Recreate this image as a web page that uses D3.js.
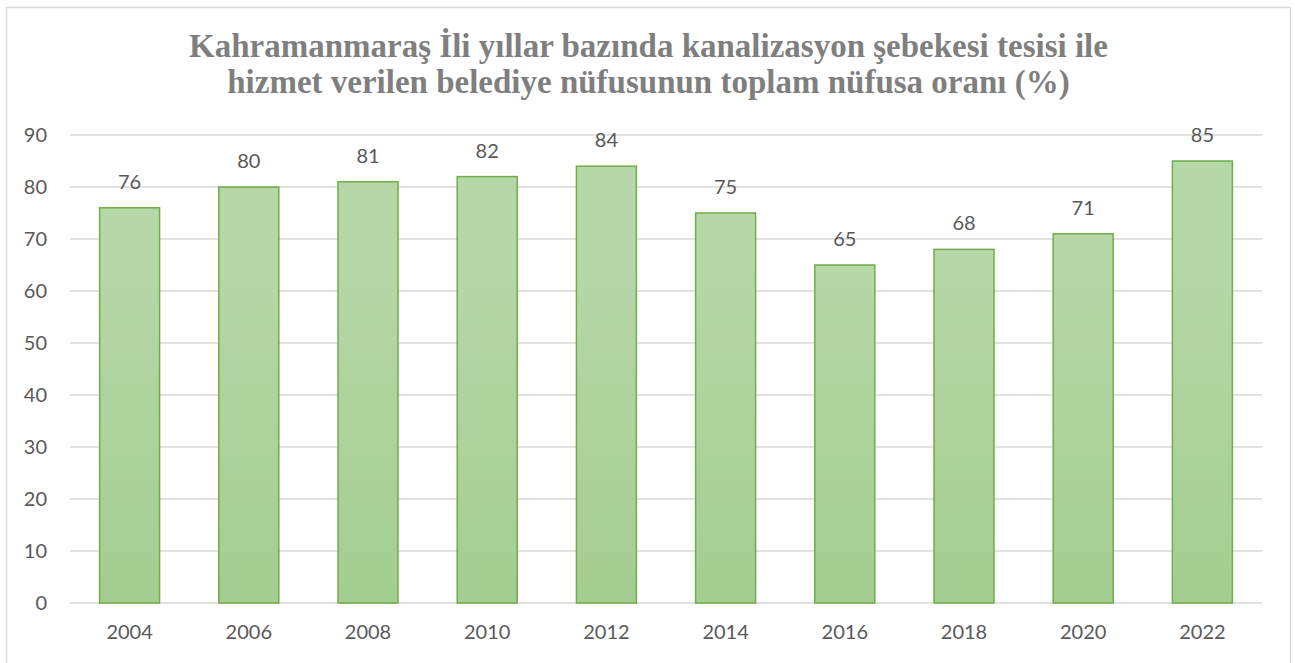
<!DOCTYPE html>
<html>
<head>
<meta charset="utf-8">
<script src="https://cdn.jsdelivr.net/npm/d3@7"></script>
<style>
  body { margin: 0; background: #fff; }
  text { font-family: "Lato", "Open Sans", sans-serif; }
</style>
</head>
<body>
<div id="chart"></div>
<script>
var years = ["2004", "2006", "2008", "2010", "2012", "2014", "2016", "2018", "2020", "2022"];
var rates = [76, 80, 81, 82, 84, 75, 65, 68, 71, 85];
var yTicks = [0, 10, 20, 30, 40, 50, 60, 70, 80, 90];
var titleLines = [
  "Kahramanmaraş İli yıllar bazında kanalizasyon şebekesi tesisi ile",
  "hizmet verilen belediye nüfusunun toplam nüfusa oranı (%)"
];

var svgWidth = 1295;
var svgHeight = 663;

var chartMargin = { top: 135, right: 33, bottom: 60, left: 70 };
var chartWidth = 1262 - chartMargin.left;
var chartHeight = 603 - chartMargin.top;

var svg = d3.select("#chart")
    .append("svg")
    .attr("width", svgWidth)
    .attr("height", svgHeight);

// outer frame
svg.append("rect")
    .attr("x", 6.5)
    .attr("y", 7.5)
    .attr("width", 1284)
    .attr("height", 670)
    .attr("fill", "none")
    .attr("stroke", "#d9d9d9")
    .attr("stroke-width", 1.5);

var defs = svg.append("defs");
var grad = defs.append("linearGradient")
    .attr("id", "barFill")
    .attr("gradientUnits", "userSpaceOnUse")
    .attr("x1", 0).attr("y1", chartMargin.top)
    .attr("x2", 0).attr("y2", chartMargin.top + chartHeight);
grad.append("stop").attr("offset", "0%").attr("stop-color", "#b6d7a8");
grad.append("stop").attr("offset", "100%").attr("stop-color", "#9dc987");

// title
svg.selectAll(".title")
    .data(titleLines)
    .enter()
    .append("text")
    .attr("class", "title")
    .attr("x", 648.5)
    .attr("y", (d, i) => 57 + i * 36)
    .attr("text-anchor", "middle")
    .style("font-family", "'Liberation Serif', 'Times New Roman', serif")
    .style("font-weight", "bold")
    .style("font-size", "33px")
    .attr("fill", "#7f7f7f")
    .text(d => d);

var chartGroup = svg.append("g")
    .attr("transform", `translate(${chartMargin.left}, ${chartMargin.top})`);

var xBandScale = d3.scaleBand()
    .domain(years)
    .range([0, chartWidth])
    .paddingInner(0.497)
    .paddingOuter(0.2485);

var yLinearScale = d3.scaleLinear()
    .domain([0, 90])
    .range([chartHeight, 0]);

// gridlines
chartGroup.selectAll(".grid")
    .data(yTicks)
    .enter()
    .append("line")
    .attr("class", "grid")
    .attr("x1", 0)
    .attr("x2", chartWidth)
    .attr("y1", d => yLinearScale(d))
    .attr("y2", d => yLinearScale(d))
    .attr("stroke", "#d9d9d9")
    .attr("stroke-width", 1.5);

// y tick labels
var leftAxis = d3.axisLeft(yLinearScale).tickValues(yTicks).tickSize(0).tickPadding(23);
var yAxis = chartGroup.append("g").call(leftAxis);
yAxis.select(".domain").remove();
yAxis.selectAll("text")
    .attr("fill", "#595959")
    .style("font-size", "20px")
    .style("font-family", "Lato, 'Open Sans', sans-serif");

// x tick labels
var bottomAxis = d3.axisBottom(xBandScale).tickSize(0).tickPadding(22);
var xAxis = chartGroup.append("g")
    .attr("transform", `translate(0, ${chartHeight})`)
    .call(bottomAxis);
xAxis.select(".domain").remove();
xAxis.selectAll("text")
    .attr("fill", "#595959")
    .style("font-size", "20px")
    .style("font-family", "Lato, 'Open Sans', sans-serif");

// bars
chartGroup.selectAll("rect.bar")
    .data(rates)
    .enter()
    .append("rect")
    .attr("class", "bar")
    .attr("x", (d, i) => xBandScale(years[i]))
    .attr("y", d => yLinearScale(d))
    .attr("width", xBandScale.bandwidth())
    .attr("height", d => chartHeight - yLinearScale(d))
    .attr("fill", "url(#barFill)")
    .attr("stroke", "#70ad47")
    .attr("stroke-width", 1.5);

// value labels
chartGroup.selectAll("text.val")
    .data(rates)
    .enter()
    .append("text")
    .attr("class", "val")
    .attr("x", (d, i) => xBandScale(years[i]) + xBandScale.bandwidth() / 2)
    .attr("y", d => yLinearScale(d) - 19)
    .attr("text-anchor", "middle")
    .attr("fill", "#595959")
    .style("font-size", "20px")
    .text(d => d);
</script>
</body>
</html>
